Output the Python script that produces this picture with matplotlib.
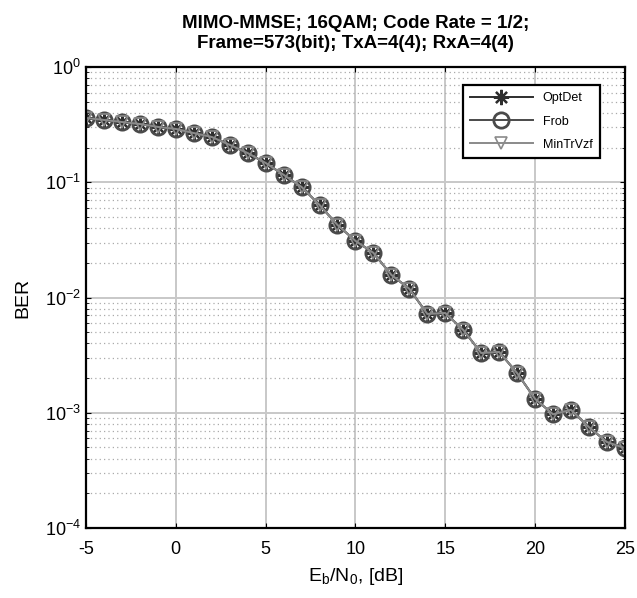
import matplotlib.pyplot as plt
import numpy as np

plt.rcParams['font.family'] = ['Liberation Sans', 'DejaVu Sans']
plt.rcParams['mathtext.fontset'] = 'custom'
plt.rcParams['mathtext.rm'] = 'Liberation Sans'
plt.rcParams['axes.unicode_minus'] = False

# Eb/N0 in dB
ebn0 = list(range(-5, 26))

# BER (all three detectors overlap)
ber_optdet = [0.361, 0.347, 0.333, 0.320, 0.302, 0.290, 0.267, 0.247, 0.211, 0.179,
              0.147, 0.116, 0.091, 0.0635, 0.0426, 0.031, 0.0244, 0.0157, 0.0119, 0.0072,
              0.00734, 0.00523, 0.0033, 0.00337, 0.00221, 0.00132, 0.00097, 0.00106, 0.00075,
              0.000557, 0.000494]
ber_frob = list(ber_optdet)
ber_mintrvzf = list(ber_optdet)

fig = plt.figure(figsize=(6.37, 5.98), dpi=100)
ax = fig.add_axes([0.135, 0.117, 0.846, 0.771])

ax.semilogy(ebn0, ber_optdet, '-', marker=(8, 2, 0), color='#2e2e2e', markersize=11,
            linewidth=1.4, markeredgewidth=1.6, label='OptDet')
ax.semilogy(ebn0, ber_frob, '-o', color='#4a4a4a', markersize=11, linewidth=1.4,
            markerfacecolor='none', markeredgewidth=2.0, label='Frob')
ax.semilogy(ebn0, ber_mintrvzf, '-v', color='#8a8a8a', markersize=9, linewidth=1.4,
            markerfacecolor='none', markeredgewidth=1.2, label='MinTrVzf')

ax.set_xlim(-5, 25)
ax.set_ylim(1e-4, 1)
ax.set_xticks([-5, 0, 5, 10, 15, 20, 25])

ax.grid(True, which='major', color='#c8c8c8', linewidth=1.4, linestyle='-')
ax.grid(True, which='minor', color='#aaaaaa', linewidth=0.9, linestyle=(0, (1, 2.5)))
ax.set_axisbelow(True)
ax.tick_params(which='both', direction='in', top=True, right=True, labelsize=13)
ax.tick_params(axis='x', pad=9)
for s in ax.spines.values():
    s.set_linewidth(1.6)

ax.set_xlabel(r'E$_\mathregular{b}$/N$_\mathregular{0}$, [dB]', fontsize=14, labelpad=6)
ax.set_ylabel('BER', fontsize=14, labelpad=10)
ax.set_title('MIMO-MMSE; 16QAM; Code Rate = 1/2;\nFrame=573(bit); TxA=4(4); RxA=4(4)',
             fontsize=13.5, fontweight='bold', pad=14)

leg = ax.legend(loc='upper right', fontsize=9, handlelength=5, fancybox=False,
                framealpha=1, edgecolor='black', bbox_to_anchor=(0.965, 0.975),
                labelspacing=0.9, borderpad=0.6)
leg.get_frame().set_linewidth(1.6)

plt.savefig('out.png', dpi=100)
